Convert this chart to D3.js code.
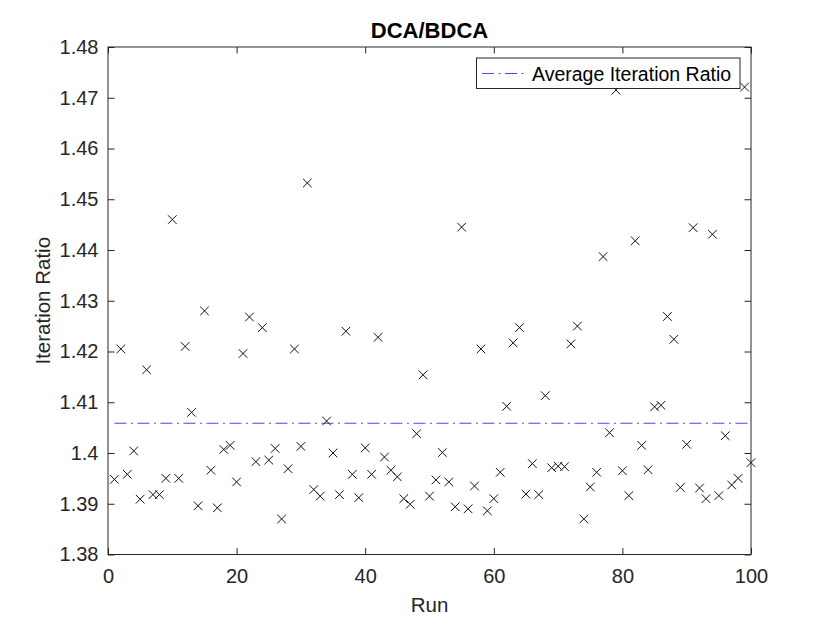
<!DOCTYPE html>
<html lang="en">
<head>
<meta charset="UTF-8">
<title>DCA/BDCA</title>
<style>
  body { margin: 0; background: #fff; }
  svg text { font-family: "Liberation Sans", Arial, Helvetica, sans-serif; fill: #262626; }
</style>
</head>
<body>
<div id="chart"></div>
<script src="https://cdnjs.cloudflare.com/ajax/libs/d3/7.8.5/d3.min.js"></script>
<script>
// iteration ratio DCA/BDCA for each run (run = index + 1)
var ratios = [
  1.3948, 1.4205, 1.3958, 1.4004, 1.3909, 1.4164, 1.3918, 1.3918, 1.3950, 1.4460,
  1.3950, 1.4210, 1.4080, 1.3896, 1.4280, 1.3966, 1.3892, 1.4007, 1.4015, 1.3943,
  1.4196, 1.4268, 1.3983, 1.4247, 1.3986, 1.4009, 1.3870, 1.3969, 1.4205, 1.4013,
  1.4532, 1.3928, 1.3915, 1.4063, 1.4000, 1.3918, 1.4240, 1.3958, 1.3912, 1.4010,
  1.3958, 1.4228, 1.3992, 1.3966, 1.3953, 1.3910, 1.3899, 1.4038, 1.4154, 1.3915,
  1.3947, 1.4001, 1.3943, 1.3894, 1.4445, 1.3890, 1.3935, 1.4205, 1.3886, 1.3910,
  1.3962, 1.4092, 1.4217, 1.4247, 1.3919, 1.3979, 1.3918, 1.4113, 1.3971, 1.3974,
  1.3973, 1.4215, 1.4250, 1.3870, 1.3933, 1.3962, 1.4387, 1.4040, 1.4715, 1.3965,
  1.3916, 1.4418, 1.4015, 1.3967, 1.4091, 1.4094, 1.4269, 1.4224, 1.3932, 1.4017,
  1.4444, 1.3931, 1.3910, 1.4431, 1.3916, 1.4034, 1.3937, 1.3950, 1.4721, 1.3981
];
var xTicks = [0, 20, 40, 60, 80, 100];
var yTicks = [1.38, 1.39, 1.40, 1.41, 1.42, 1.43, 1.44, 1.45, 1.46, 1.47, 1.48];
var avgRatio = d3.mean(ratios);

var W = 830, H = 623;
// 'top' is reserved on window, so plot edges get their own names
var plotL = 108, plotT = 47, plotR = 751, plotB = 554.5;
var axisColor = '#262626';
var avgColor = '#4646ff';
var tickLen = 6.5;

var svg = d3.select('#chart').append('svg')
    .attr('width', W)
    .attr('height', H);

var x = d3.scaleLinear().domain([0, 100]).range([plotL, plotR]);
var y = d3.scaleLinear().domain([1.38, 1.48]).range([plotB, plotT]);

var fmtY = function (d) { return String(+d.toFixed(2)); };

// bottom axis (ticks inside)
svg.append('g')
    .attr('transform', 'translate(0,' + plotB + ')')
    .call(d3.axisBottom(x).tickValues(xTicks).tickSize(-tickLen).tickPadding(tickLen + 8))
    .call(function (g) {
        g.select('.domain').remove();
        g.selectAll('line').attr('stroke', axisColor);
        g.selectAll('text').attr('font-size', '20px').attr('fill', axisColor);
    });
// top mirror ticks
svg.append('g')
    .attr('transform', 'translate(0,' + plotT + ')')
    .call(d3.axisTop(x).tickValues(xTicks).tickSize(-tickLen).tickFormat(''))
    .call(function (g) {
        g.select('.domain').remove();
        g.selectAll('line').attr('stroke', axisColor);
    });
// left axis
svg.append('g')
    .attr('transform', 'translate(' + plotL + ',0)')
    .call(d3.axisLeft(y).tickValues(yTicks).tickSize(-tickLen).tickPadding(tickLen + 3).tickFormat(fmtY))
    .call(function (g) {
        g.select('.domain').remove();
        g.selectAll('line').attr('stroke', axisColor);
        g.selectAll('text').attr('font-size', '20px').attr('fill', axisColor);
    });
// right mirror ticks
svg.append('g')
    .attr('transform', 'translate(' + plotR + ',0)')
    .call(d3.axisRight(y).tickValues(yTicks).tickSize(-tickLen).tickFormat(''))
    .call(function (g) {
        g.select('.domain').remove();
        g.selectAll('line').attr('stroke', axisColor);
    });

// box
svg.append('rect')
    .attr('x', plotL)
    .attr('y', plotT)
    .attr('width', plotR - plotL)
    .attr('height', plotB - plotT)
    .attr('fill', 'none')
    .attr('stroke', axisColor)
    .attr('stroke-width', 1);

// average line
svg.append('line')
    .attr('x1', x(1))
    .attr('x2', x(ratios.length))
    .attr('y1', y(avgRatio))
    .attr('y2', y(avgRatio))
    .attr('stroke', avgColor)
    .attr('stroke-width', 1.2)
    .attr('stroke-dasharray', '12,4.5,2,4.5');

// x markers
var m = 4.3;
svg.append('g').selectAll('path')
    .data(ratios)
    .enter()
    .append('path')
    .attr('d', function (d, i) {
        var cx = x(i + 1), cy = y(d);
        return 'M' + (cx - m) + ',' + (cy - m) + 'L' + (cx + m) + ',' + (cy + m) +
               'M' + (cx - m) + ',' + (cy + m) + 'L' + (cx + m) + ',' + (cy - m);
    })
    .attr('stroke', '#111')
    .attr('stroke-width', 1)
    .attr('fill', 'none');

// title and labels
svg.append('text')
    .attr('x', (plotL + plotR) / 2)
    .attr('y', 38)
    .attr('text-anchor', 'middle')
    .attr('font-size', '22px')
    .attr('font-weight', 'bold')
    .style('fill', '#000')
    .text('DCA/BDCA');

svg.append('text')
    .attr('x', (plotL + plotR) / 2)
    .attr('y', 612)
    .attr('text-anchor', 'middle')
    .attr('font-size', '20.5px')
    .text('Run');

svg.append('text')
    .attr('transform', 'translate(50,' + ((plotT + plotB) / 2) + ') rotate(-90)')
    .attr('text-anchor', 'middle')
    .attr('font-size', '20.5px')
    .text('Iteration Ratio');

// legend
var legend = svg.append('g');
legend.append('rect')
    .attr('x', 476.5)
    .attr('y', 58)
    .attr('width', 263.5)
    .attr('height', 30.5)
    .attr('fill', '#fff')
    .attr('stroke', axisColor)
    .attr('stroke-width', 1);
legend.append('line')
    .attr('x1', 482)
    .attr('x2', 526)
    .attr('y1', 73.5)
    .attr('y2', 73.5)
    .attr('stroke', avgColor)
    .attr('stroke-width', 1.2)
    .attr('stroke-dasharray', '12,4.5,2,4.5');
legend.append('text')
    .attr('x', 532)
    .attr('y', 80.5)
    .attr('font-size', '19.5px')
    .style('fill', '#000')
    .text('Average Iteration Ratio');
</script>
</body>
</html>
